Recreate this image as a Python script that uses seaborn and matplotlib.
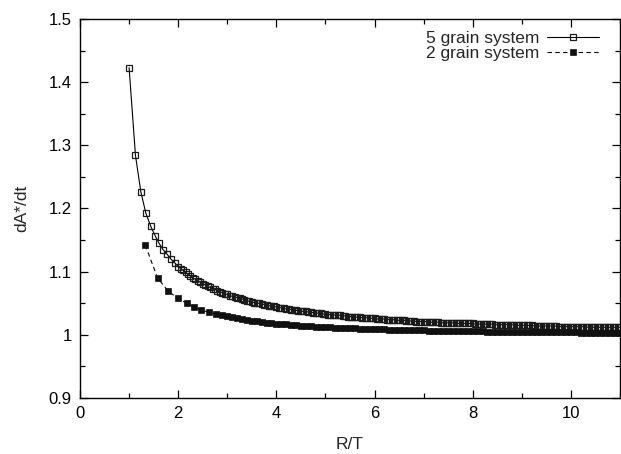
import matplotlib
matplotlib.use("Agg")
import matplotlib.pyplot as plt
import seaborn as sns
from matplotlib.ticker import MultipleLocator

# values (5 grain system, open squares)
x_five = [1.00, 1.13, 1.24, 1.34, 1.44, 1.53, 1.61, 1.69, 1.77, 1.85, 1.93,
          2.00, 2.05, 2.10, 2.15, 2.20, 2.25, 2.30, 2.35, 2.40, 2.45,
          2.50, 2.55, 2.60, 2.65, 2.70, 2.75, 2.80, 2.85, 2.90, 2.95,
          3.00, 3.05, 3.10, 3.15, 3.20, 3.25, 3.30, 3.35, 3.40, 3.45,
          3.50, 3.55, 3.60, 3.65, 3.70, 3.75, 3.80, 3.85, 3.90, 3.95,
          4.00, 4.05, 4.10, 4.15, 4.20, 4.25, 4.30, 4.35, 4.40, 4.45,
          4.50, 4.55, 4.60, 4.65, 4.70, 4.75, 4.80, 4.85, 4.90, 4.95,
          5.00, 5.05, 5.10, 5.15, 5.20, 5.25, 5.30, 5.35, 5.40, 5.45,
          5.50, 5.55, 5.60, 5.65, 5.70, 5.75, 5.80, 5.85, 5.90, 5.95,
          6.00, 6.05, 6.10, 6.15, 6.20, 6.25, 6.30, 6.35, 6.40, 6.45,
          6.50, 6.55, 6.60, 6.65, 6.70, 6.75, 6.80, 6.85, 6.90, 6.95,
          7.00, 7.05, 7.10, 7.15, 7.20, 7.25, 7.30, 7.35, 7.40, 7.45,
          7.50, 7.55, 7.60, 7.65, 7.70, 7.75, 7.80, 7.85, 7.90, 7.95,
          8.00, 8.05, 8.10, 8.15, 8.20, 8.25, 8.30, 8.35, 8.40, 8.45,
          8.50, 8.55, 8.60, 8.65, 8.70, 8.75, 8.80, 8.85, 8.90, 8.95,
          9.00, 9.05, 9.10, 9.15, 9.20, 9.25, 9.30, 9.35, 9.40, 9.45,
          9.50, 9.55, 9.60, 9.65, 9.70, 9.75, 9.80, 9.85, 9.90, 9.95,
          10.00, 10.05, 10.10, 10.15, 10.20, 10.25, 10.30, 10.35, 10.40, 10.45,
          10.50, 10.55, 10.60, 10.65, 10.70, 10.75, 10.80, 10.85, 10.90, 10.95,
          11.00]
y_five = [1.423, 1.284, 1.226, 1.193, 1.172, 1.157, 1.145, 1.135, 1.128, 1.120, 1.114,
          1.108, 1.105, 1.102, 1.099, 1.096, 1.093, 1.090, 1.088, 1.086, 1.083,
          1.081, 1.079, 1.077, 1.075, 1.073, 1.072, 1.070, 1.068, 1.067, 1.065,
          1.064, 1.062, 1.061, 1.060, 1.059, 1.058, 1.057, 1.055, 1.054, 1.053,
          1.052, 1.051, 1.050, 1.050, 1.049, 1.048, 1.047, 1.046, 1.046, 1.045,
          1.044, 1.043, 1.043, 1.042, 1.041, 1.041, 1.040, 1.040, 1.039, 1.038,
          1.038, 1.037, 1.037, 1.036, 1.036, 1.035, 1.035, 1.034, 1.034, 1.033,
          1.033, 1.032, 1.032, 1.032, 1.031, 1.031, 1.031, 1.030, 1.030, 1.029,
          1.029, 1.029, 1.028, 1.028, 1.028, 1.027, 1.027, 1.027, 1.026, 1.026,
          1.026, 1.025, 1.025, 1.025, 1.025, 1.024, 1.024, 1.024, 1.024, 1.023,
          1.023, 1.023, 1.023, 1.022, 1.022, 1.022, 1.022, 1.021, 1.021, 1.021,
          1.021, 1.021, 1.021, 1.020, 1.020, 1.020, 1.020, 1.019, 1.019, 1.019,
          1.019, 1.019, 1.019, 1.018, 1.018, 1.018, 1.018, 1.018, 1.018, 1.018,
          1.018, 1.017, 1.017, 1.017, 1.017, 1.017, 1.017, 1.017, 1.017, 1.016,
          1.016, 1.016, 1.016, 1.016, 1.016, 1.016, 1.016, 1.015, 1.015, 1.015,
          1.015, 1.015, 1.015, 1.015, 1.015, 1.014, 1.014, 1.014, 1.014, 1.014,
          1.014, 1.014, 1.014, 1.014, 1.014, 1.013, 1.013, 1.013, 1.013, 1.013,
          1.013, 1.013, 1.013, 1.013, 1.013, 1.013, 1.013, 1.012, 1.012, 1.012,
          1.012, 1.012, 1.012, 1.012, 1.012, 1.012, 1.012, 1.012, 1.012, 1.012,
          1.012]

# 2 grain system, filled squares
x_two = [1.33, 1.58, 1.80, 1.99, 2.17, 2.33, 2.47, 2.62, 2.77,
         2.9, 3.0, 3.1, 3.2, 3.3, 3.4, 3.5, 3.6, 3.7, 3.8, 3.9,
         4.0, 4.1, 4.2, 4.3, 4.4, 4.5, 4.6, 4.7, 4.8, 4.9,
         5.0, 5.1, 5.2, 5.3, 5.4, 5.5, 5.6, 5.7, 5.8, 5.9,
         6.0, 6.1, 6.2, 6.3, 6.4, 6.5, 6.6, 6.7, 6.8, 6.9,
         7.0, 7.1, 7.2, 7.3, 7.4, 7.5, 7.6, 7.7, 7.8, 7.9,
         8.0, 8.1, 8.2, 8.3, 8.4, 8.5, 8.6, 8.7, 8.8, 8.9,
         9.0, 9.1, 9.2, 9.3, 9.4, 9.5, 9.6, 9.7, 9.8, 9.9,
         10.0, 10.1, 10.2, 10.3, 10.4, 10.5, 10.6, 10.7, 10.8, 10.9,
         11.0]
y_two = [1.142, 1.090, 1.069, 1.058, 1.050, 1.044, 1.039, 1.036, 1.033,
         1.0308, 1.0291, 1.0275, 1.0261, 1.0247, 1.0235, 1.0224, 1.0213, 1.0204, 1.0195, 1.0186,
         1.0178, 1.0171, 1.0164, 1.0158, 1.0152, 1.0146, 1.0141, 1.0136, 1.0131, 1.0126,
         1.0122, 1.0118, 1.0114, 1.0111, 1.0107, 1.0104, 1.0101, 1.0098, 1.0095, 1.0092,
         1.0089, 1.0087, 1.0085, 1.0082, 1.0080, 1.0078, 1.0076, 1.0074, 1.0072, 1.0071,
         1.0069, 1.0067, 1.0066, 1.0064, 1.0063, 1.0061, 1.0060, 1.0059, 1.0057, 1.0056,
         1.0055, 1.0054, 1.0053, 1.0052, 1.0051, 1.0050, 1.0049, 1.0048, 1.0047, 1.0046,
         1.0045, 1.0044, 1.0043, 1.0043, 1.0042, 1.0041, 1.0040, 1.0040, 1.0039, 1.0038,
         1.0038, 1.0037, 1.0036, 1.0036, 1.0035, 1.0035, 1.0034, 1.0034, 1.0033, 1.0033,
         1.0032]

y_ticks = [0.9, 1.0, 1.1, 1.2, 1.3, 1.4, 1.5]
y_tick_labels = ['0.9', '1', '1.1', '1.2', '1.3', '1.4', '1.5']

sns.set_style("ticks")
plt.rcParams['font.family'] = ['Liberation Sans', 'DejaVu Sans']

fig = plt.figure(figsize=(6.21, 4.54), dpi=100)
ax = fig.add_axes([80 / 621, 1 - 398 / 454, 540 / 621, 379 / 454])

sns.lineplot(x=x_five, y=y_five, ax=ax, color='black', linewidth=0.8,
             marker='s', markersize=5.0, markerfacecolor='none',
             markeredgecolor='#1a1a1a', markeredgewidth=0.9,
             label='5 grain system', sort=False)
sns.lineplot(x=x_two, y=y_two, ax=ax, color='black', linewidth=0.8,
             linestyle=(0, (4, 3)), marker='s', markersize=4.6,
             markerfacecolor='#111111', markeredgecolor='#111111',
             markeredgewidth=0.5, label='2 grain system', sort=False)

ax.set_xlim(0, 11)
ax.set_ylim(0.9, 1.5)
ax.xaxis.set_major_locator(MultipleLocator(2))
ax.xaxis.set_minor_locator(MultipleLocator(1))
ax.set_yticks(y_ticks)
ax.set_yticklabels(y_tick_labels)
ax.yaxis.set_minor_locator(MultipleLocator(0.05))

ax.tick_params(which='both', direction='in', top=True, right=True,
               labelsize=12, colors='black', width=0.9)
ax.tick_params(which='major', length=6, pad=6)
ax.tick_params(which='minor', length=3.5)
for s in ax.spines.values():
    s.set_linewidth(1.0)
    s.set_color('black')

ax.set_xlabel('R/T', fontsize=12.5, labelpad=11)
ax.set_ylabel('dA*/dt', fontsize=12.5, labelpad=14)

ax.legend(loc='upper right', frameon=False, markerfirst=False, numpoints=1,
          fontsize=12.5, handlelength=3.0, handletextpad=0.45,
          labelspacing=0.0, borderaxespad=0.3, bbox_to_anchor=(0.984, 1.0))

fig.savefig('out.png', dpi=100)
